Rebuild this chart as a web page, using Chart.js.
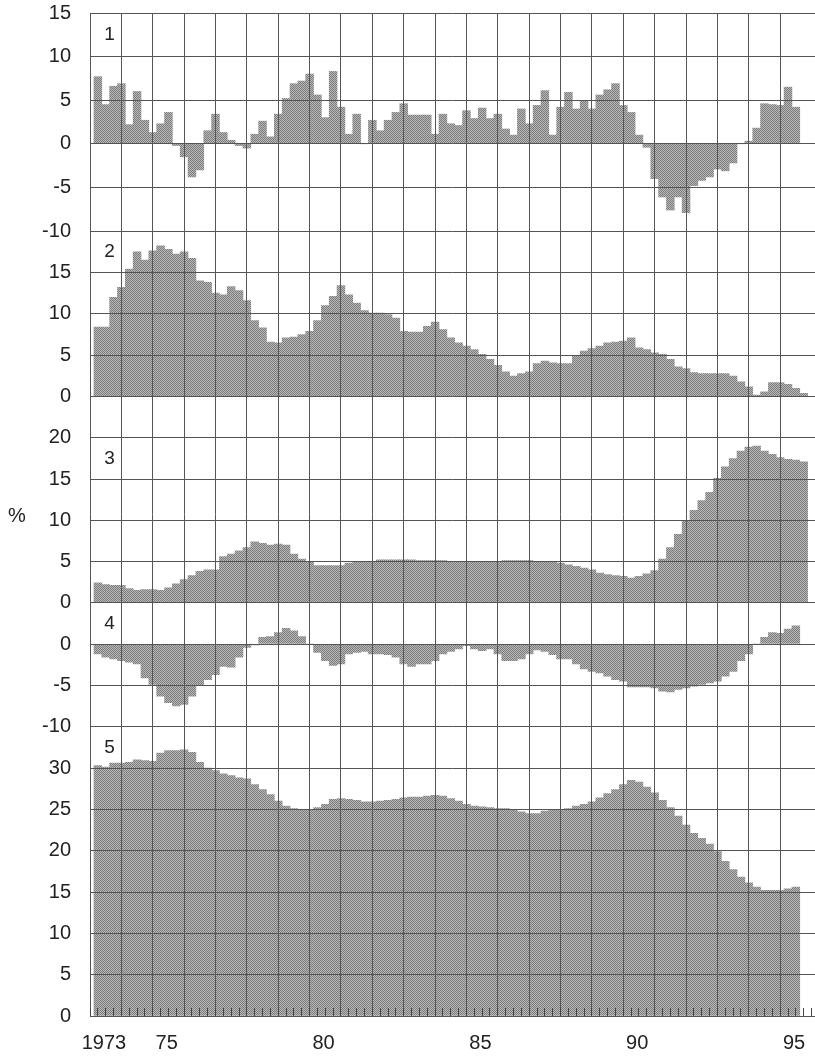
<!DOCTYPE html>
<html>
<head>
<meta charset="utf-8">
<script src="https://cdn.jsdelivr.net/npm/chart.js@4/dist/chart.umd.min.js"></script>
<style>
html,body{margin:0;padding:0;background:#fff;}
#wrap{position:relative;width:815px;height:1056px;}
canvas{display:block;}
</style>
</head>
<body>
<div id="wrap"><canvas id="c" width="815" height="1056"></canvas></div>
<script>
// ---- data (quarterly, starting 1973 Q1) ----
const firstYear = 1973;
const lastGridYear = 1995;
const xLabelYears = [1973, 1975, 1980, 1985, 1990, 1995];
const xLabelTexts = ['1973', '75', '80', '85', '90', '95'];
const panelNames = ['1', '2', '3', '4', '5'];
const yAxisTitle = '%';

const panel1Ticks = [15, 10, 5, 0, -5, -10];
const panel2Ticks = [15, 10, 5, 0];
const panel3Ticks = [20, 15, 10, 5, 0];
const panel4Ticks = [0, -5, -10];
const panel5Ticks = [30, 25, 20, 15, 10, 5, 0];

const series1 = [7.7, 4.5, 6.6, 6.9, 2.2, 6.0, 2.7, 1.3, 2.3, 3.6,
  -0.2, -1.5, -3.8, -3.0, 1.5, 3.4, 1.3, 0.4, -0.2, -0.5,
  1.1, 2.6, 0.8, 3.4, 5.2, 6.9, 7.2, 8.0, 5.6, 3.0,
  8.3, 4.2, 1.1, 3.4, 0, 2.7, 1.5, 2.7, 3.6, 4.6,
  3.3, 3.3, 3.3, 1.1, 3.4, 2.3, 2.1, 3.8, 2.9, 4.1,
  2.9, 3.4, 1.7, 1.0, 4.0, 2.3, 4.4, 6.1, 1.0, 4.2,
  5.9, 4.0, 4.9, 4.0, 5.6, 6.2, 6.9, 4.4, 3.6, 1.0,
  -0.4, -4.0, -6.1, -7.6, -6.1, -7.9, -4.8, -4.2, -3.8, -2.9,
  -3.1, -2.2, 0, 0.3, 1.8, 4.6, 4.5, 4.4, 6.5, 4.2];

const series2 = [8.4, 8.4, 12.0, 13.2, 15.4, 17.5, 16.5, 17.6, 18.2, 17.8,
  17.2, 17.5, 16.7, 14.0, 13.8, 12.5, 12.3, 13.3, 12.8, 11.6,
  9.2, 8.3, 6.6, 6.5, 7.1, 7.2, 7.5, 7.9, 9.2, 11.0,
  12.1, 13.4, 12.3, 11.3, 10.4, 10.1, 10.1, 9.9, 9.5, 7.9,
  7.8, 7.8, 8.5, 9.0, 8.1, 7.1, 6.5, 6.1, 5.7, 5.1,
  4.5, 3.8, 3.0, 2.5, 2.8, 3.0, 4.0, 4.3, 4.1, 4.0,
  4.0, 4.9, 5.5, 5.8, 6.1, 6.5, 6.6, 6.7, 7.1, 5.9,
  5.7, 5.3, 5.1, 4.5, 3.6, 3.4, 2.9, 2.8, 2.8, 2.8,
  2.8, 2.5, 1.8, 1.2, 0.2, 0.6, 1.7, 1.7, 1.5, 1.0,
  0.4];

const series3 = [2.4, 2.2, 2.1, 2.1, 1.7, 1.5, 1.6, 1.6, 1.5, 1.8,
  2.3, 2.8, 3.3, 3.8, 4.0, 4.0, 5.6, 5.9, 6.3, 6.7,
  7.4, 7.2, 7.0, 7.1, 7.0, 5.9, 5.3, 5.0, 4.5, 4.5,
  4.5, 4.5, 4.8, 5.0, 5.0, 5.0, 5.2, 5.2, 5.2, 5.2,
  5.2, 5.1, 5.1, 5.1, 5.1, 5.0, 5.0, 5.0, 4.9, 4.9,
  5.0, 5.0, 5.1, 5.1, 5.1, 5.1, 5.0, 5.0, 4.9, 4.8,
  4.6, 4.4, 4.2, 4.0, 3.6, 3.4, 3.3, 3.2, 3.0, 3.2,
  3.5, 3.9, 5.3, 6.7, 8.3, 10.0, 11.2, 12.4, 13.4, 15.1,
  16.5, 17.5, 18.4, 18.9, 19.0, 18.4, 18.0, 17.6, 17.4, 17.3,
  17.1];

const series4 = [-1.2, -1.6, -1.8, -2.0, -2.2, -2.4, -4.1, -4.9, -6.3, -7.1,
  -7.5, -7.3, -6.3, -5.0, -4.3, -3.7, -2.7, -2.8, -1.6, -0.4,
  -0.1, 0.8, 0.9, 1.4, 1.9, 1.6, 0.9, 0, -1.0, -2.0,
  -2.6, -2.4, -1.2, -1.0, -0.9, -1.2, -1.2, -1.3, -1.6, -2.4,
  -2.7, -2.4, -2.4, -2.0, -1.2, -0.9, -0.6, -0.2, -0.6, -0.8,
  -0.6, -1.2, -2.0, -2.0, -1.8, -1.2, -0.7, -0.9, -1.3, -1.8,
  -1.8, -2.4, -3.0, -3.3, -3.5, -3.9, -4.3, -4.5, -5.2, -5.2,
  -5.2, -5.3, -5.7, -5.8, -5.5, -5.3, -5.1, -4.9, -4.7, -4.5,
  -3.9, -3.3, -2.0, -1.2, 0, 0.8, 1.4, 1.3, 1.8, 2.2];

const series5 = [30.3, 30.1, 30.6, 30.6, 30.7, 31.0, 30.9, 30.8, 31.8, 32.1,
  32.1, 32.2, 31.9, 30.7, 30.0, 29.7, 29.3, 29.1, 28.8, 28.7,
  28.0, 27.4, 26.8, 26.0, 25.4, 25.1, 24.9, 24.9, 25.2, 25.6,
  26.2, 26.3, 26.2, 26.1, 25.9, 25.9, 26.0, 26.1, 26.2, 26.4,
  26.5, 26.5, 26.6, 26.7, 26.6, 26.3, 26.0, 25.6, 25.4, 25.3,
  25.2, 25.1, 25.1, 25.0, 24.7, 24.5, 24.5, 24.8, 24.9, 25.0,
  25.1, 25.4, 25.6, 25.9, 26.4, 26.9, 27.4, 28.0, 28.5, 28.3,
  27.7, 27.0, 26.1, 25.2, 24.2, 23.1, 22.1, 21.5, 20.8, 19.9,
  18.7, 17.7, 16.8, 16.1, 15.6, 15.2, 15.2, 15.2, 15.4, 15.6];

// ---- build chart ----
const FONT = '"Liberation Sans", Arial, Helvetica, sans-serif';
Chart.defaults.font.family = FONT;
Chart.defaults.color = '#222';

const seriesList = [series1, series2, series3, series4, series5];
const tickList = [panel1Ticks, panel2Ticks, panel3Ticks, panel4Ticks, panel5Ticks];
const panelRanges = [[-10, 15], [0, 20], [0, 25], [-10, 5], [0, 35]];
const panelWeights = [218, 165.7, 206, 124, 289.3];
const panelLabelValue = [12.5, 17.5, 17.5, 2.5, 32.5];

// halftone-like fill
const pc = document.createElement('canvas');
pc.width = 2; pc.height = 2;
const pctx = pc.getContext('2d');
pctx.fillStyle = '#b8b8b8'; pctx.fillRect(0, 0, 2, 2);
pctx.fillStyle = '#7c7c7c'; pctx.fillRect(0, 0, 1, 1); pctx.fillRect(1, 1, 1, 1);
const fillPattern = pctx.createPattern(pc, 'repeat');

const toPoints = (arr) => arr.map((v, i) => ({ x: firstYear + (i + 0.5) / 4, y: v }));

const datasets = seriesList.map((s, k) => ({
  label: 'Panel ' + panelNames[k],
  data: toPoints(s),
  yAxisID: 'y' + (k + 1),
  backgroundColor: fillPattern,
  borderWidth: 0,
  barPercentage: 1,
  categoryPercentage: 1,
  grouped: false
}));

const GRID = '#555';
const scales = {
  x: {
    type: 'linear',
    position: 'bottom',
    min: firstYear,
    max: 1995.86,
    afterBuildTicks: (scale) => {
      const t = [];
      for (let y = firstYear; y <= lastGridYear + 0.75; y += 0.25) t.push({ value: y });
      scale.ticks = t;
    },
    afterFit: (scale) => {
      scale.height = 40;
      scale.paddingLeft = 0; scale.paddingRight = 0;
    },
    grid: {
      z: 1,
      color: (ctx) => (ctx.tick && Number.isInteger(ctx.tick.value)) ? GRID : 'rgba(0,0,0,0)',
      tickColor: '#444',
      tickLength: -8,
      drawTicks: true,
      lineWidth: 1
    },
    border: { display: false },
    ticks: {
      autoSkip: false,
      maxRotation: 0,
      padding: 23,
      labelOffset: 10,
      font: { size: 20 },
      color: '#222',
      callback: (value) => {
        const idx = xLabelYears.indexOf(value);
        return idx >= 0 ? xLabelTexts[idx] : '';
      }
    }
  }
};

tickList.forEach((ticks, k) => {
  scales['y' + (k + 1)] = {
    type: 'linear',
    position: 'left',
    stack: 'panels',
    stackWeight: panelWeights[k],
    weight: 5 - k,
    offset: false,
    min: panelRanges[k][0],
    max: panelRanges[k][1],
    afterBuildTicks: (scale) => { scale.ticks = ticks.map(v => ({ value: v })); },
    afterFit: (scale) => {
      scale.width = 90;
      scale.paddingTop = 0; scale.paddingBottom = 0;
    },
    grid: { z: 1, color: GRID, lineWidth: 1, drawTicks: false },
    border: { display: false },
    ticks: { autoSkip: false, padding: 19, font: { size: 20 }, color: '#222' }
  };
});

const labelsPlugin = {
  id: 'panelLabels',
  afterDraw(chart) {
    const ctx = chart.ctx;
    ctx.save();
    ctx.fillStyle = '#222';
    ctx.textAlign = 'center';
    ctx.textBaseline = 'middle';
    ctx.font = '19px ' + FONT;
    const x = chart.scales.x.getPixelForValue(firstYear + 0.5);
    panelNames.forEach((name, k) => {
      const s = chart.scales['y' + (k + 1)];
      ctx.fillText(name, x, s.getPixelForValue(panelLabelValue[k]));
    });
    ctx.font = '20px ' + FONT;
    ctx.fillText(yAxisTitle, 17, 516);
    ctx.restore();
  }
};

new Chart(document.getElementById('c'), {
  type: 'bar',
  data: { datasets },
  options: {
    responsive: false,
    animation: false,
    devicePixelRatio: 1,
    layout: { padding: { top: 13, left: 0, right: 0, bottom: 0 } },
    plugins: { legend: { display: false }, tooltip: { enabled: false } },
    scales
  },
  plugins: [labelsPlugin]
});
</script>
</body>
</html>
